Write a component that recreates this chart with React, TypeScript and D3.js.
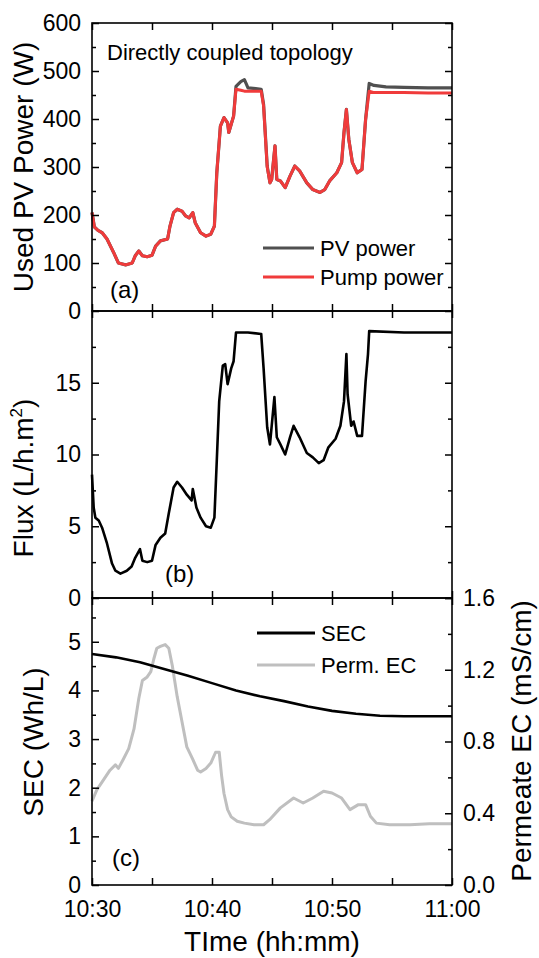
import { useRef, useEffect } from 'react';
import * as d3 from 'd3';

// time is minutes after 10:30
const powerTime = [0, 0.2, 0.5, 0.85, 1.25, 1.8, 2.2, 2.8, 3.35, 3.6, 3.9, 4.2, 4.6, 5.0, 5.3, 5.7, 6.3, 6.5, 6.8, 7.1, 7.5, 7.8, 8.1, 8.4, 8.6, 9.05, 9.5, 9.9, 10.2, 10.4, 10.7, 11.0, 11.3, 11.4, 11.6, 11.8, 12.0, 12.4, 12.7, 13.0, 14.1, 14.3, 14.6, 14.83, 14.97, 15.25, 15.4, 15.7, 16.1, 16.5, 16.9, 17.3, 17.9, 18.4, 19.0, 19.4, 19.8, 20.4, 20.8, 21.0, 21.2, 21.4, 21.7, 22.1, 22.5, 22.8, 23.1, 23.5, 24.5, 26, 28, 30];
const pvPower = [205, 175, 168, 163, 150, 122, 100, 96, 100, 115, 125, 115, 113, 116, 135, 146, 150, 177, 205, 212, 208, 198, 194, 205, 184, 163, 156, 160, 177, 288, 385, 403, 392, 372, 389, 406, 468, 478, 482, 465, 462, 430, 302, 267, 274, 344, 274, 271, 257, 281, 302, 292, 267, 253, 247, 253, 271, 288, 309, 372, 420, 358, 309, 288, 295, 399, 474, 470, 467, 466, 465, 465];
const pumpPower = [205, 175, 168, 163, 150, 122, 100, 96, 100, 115, 125, 115, 113, 116, 135, 146, 150, 177, 205, 212, 208, 198, 194, 205, 184, 163, 156, 160, 177, 288, 385, 403, 392, 372, 389, 406, 462, 460, 458, 458, 458, 427, 300, 267, 274, 344, 274, 271, 257, 281, 302, 292, 267, 253, 247, 253, 271, 288, 309, 372, 420, 358, 309, 288, 295, 399, 458, 455, 455, 455, 454, 454];

const fluxTime = [0, 0.14, 0.28, 0.56, 0.84, 1.25, 1.67, 1.95, 2.37, 2.9, 3.3, 3.6, 4.0, 4.2, 4.6, 5.0, 5.3, 5.7, 6.1, 6.4, 6.8, 7.1, 7.5, 7.9, 8.3, 8.4, 8.7, 9.05, 9.5, 9.9, 10.2, 10.4, 10.6, 10.9, 11.1, 11.3, 11.6, 11.8, 12.0, 13.0, 14.1, 14.3, 14.6, 14.83, 15.2, 15.4, 15.7, 16.1, 16.5, 16.8, 17.3, 17.9, 18.4, 18.9, 19.3, 19.7, 20.3, 20.7, 21.0, 21.2, 21.3, 21.6, 21.8, 22.1, 22.5, 22.8, 23.0, 23.1, 26, 30];
const flux = [8.6, 6.3, 5.6, 5.4, 4.9, 3.8, 2.4, 1.9, 1.7, 1.9, 2.2, 2.8, 3.4, 2.6, 2.5, 2.6, 3.7, 4.2, 4.5, 5.9, 7.7, 8.1, 7.7, 7.2, 6.8, 7.6, 6.3, 5.6, 5.0, 4.9, 5.6, 9.6, 13.7, 16.2, 16.3, 14.9, 16.0, 16.5, 18.5, 18.5, 18.4, 16.0, 11.9, 10.7, 14.0, 11.2, 10.7, 10.0, 11.2, 12.0, 11.2, 10.1, 9.8, 9.4, 9.6, 10.5, 11.1, 12.0, 13.7, 17.0, 14.2, 12.0, 12.3, 11.3, 11.3, 15.1, 17.0, 18.6, 18.5, 18.5];

const secTime = [0, 2, 4, 6, 8, 10, 12, 14, 16, 18, 20, 22, 24, 26, 28, 30];
const sec = [4.75, 4.68, 4.58, 4.44, 4.3, 4.15, 4.0, 3.88, 3.78, 3.67, 3.58, 3.52, 3.48, 3.47, 3.47, 3.47];

const ecTime = [0, 0.4, 1.0, 1.5, 1.95, 2.2, 2.6, 3.06, 3.5, 3.9, 4.2, 4.6, 4.9, 5.15, 5.4, 5.7, 6.1, 6.4, 6.7, 7.1, 7.5, 7.9, 8.4, 8.8, 9.05, 9.5, 9.9, 10.3, 10.6, 10.8, 11.0, 11.3, 11.6, 12.1, 12.7, 13.5, 14.3, 14.8, 15.7, 16.8, 17.6, 18.4, 19.3, 20.0, 20.8, 21.5, 22.2, 22.8, 23.2, 23.7, 24.8, 26.5, 28.1, 30];
const permEC = [0.467, 0.53, 0.59, 0.64, 0.67, 0.65, 0.7, 0.76, 0.87, 1.04, 1.14, 1.16, 1.19, 1.26, 1.32, 1.33, 1.34, 1.32, 1.22, 1.05, 0.91, 0.77, 0.7, 0.64, 0.63, 0.65, 0.68, 0.74, 0.74, 0.61, 0.51, 0.42, 0.38, 0.355, 0.345, 0.336, 0.336, 0.364, 0.43, 0.485, 0.457, 0.485, 0.523, 0.513, 0.485, 0.42, 0.448, 0.448, 0.383, 0.345, 0.336, 0.336, 0.342, 0.342];

const timeTicks = [0, 5, 10, 15, 20, 25, 30];
const timeLabelAt = [0, 10, 20, 30];
const timeLabels = ['10:30', '10:40', '10:50', '11:00'];

const powerTicks = [0, 100, 200, 300, 400, 500, 600];
const powerMinor = [50, 150, 250, 350, 450, 550];
const fluxTicks = [0, 5, 10, 15];
const fluxMinor = [2.5, 7.5, 12.5, 17.5];
const secTicks = [0, 1, 2, 3, 4, 5];
const secMinor = [0.5, 1.5, 2.5, 3.5, 4.5, 5.5];
const ecTicks = [0, 0.4, 0.8, 1.2, 1.6];
const ecMinor = [0.2, 0.6, 1.0, 1.4];

const FONT = 'Arial, "Liberation Sans", sans-serif';

export default function App() {
  const svgRef = useRef<SVGSVGElement>(null);

  useEffect(() => {
    if (!svgRef.current) return;
    const svg = d3.select(svgRef.current);
    svg.selectAll('*').remove();

    const x0 = 92;
    const x1 = 452;
    const x = d3.scaleLinear().domain([0, 30]).range([x0, x1]);

    const yPow = d3.scaleLinear().domain([0, 600]).range([311, 23]);
    const yFlux = d3.scaleLinear().domain([0, 20]).range([598, 311]);
    const ySec = d3.scaleLinear().domain([0, 5.9]).range([885, 598]);
    const yEc = d3.scaleLinear().domain([0, 1.6]).range([885, 598]);

    const styleAxis = (g: any) => {
      g.select('.domain').remove();
      g.selectAll('line').attr('stroke', '#000').attr('stroke-width', 1.5);
      g.selectAll('text').attr('font-family', FONT).attr('font-size', 23).attr('fill', '#000');
    };

    const frame = (top: number, bottom: number, y: any, majors: number[], minors: number[], labelled: boolean) => {
      // time ticks top and bottom
      svg.append('g').attr('transform', `translate(0,${bottom})`)
        .call(d3.axisBottom(x).tickValues(timeTicks).tickSize(-7).tickFormat(() => ''))
        .call(styleAxis);
      svg.append('g').attr('transform', `translate(0,${top})`)
        .call(d3.axisTop(x).tickValues(timeTicks).tickSize(-7).tickFormat(() => ''))
        .call(styleAxis);
      // left
      svg.append('g').attr('transform', `translate(${x0},0)`)
        .call(d3.axisLeft(y).tickValues(majors).tickSize(-7).tickPadding(11)
          .tickFormat((d: any) => (labelled ? String(d) : '')))
        .call(styleAxis);
      svg.append('g').attr('transform', `translate(${x0},0)`)
        .call(d3.axisLeft(y).tickValues(minors).tickSize(-4).tickFormat(() => ''))
        .call(styleAxis);
      svg.append('rect')
        .attr('x', x0).attr('y', top).attr('width', x1 - x0).attr('height', bottom - top)
        .attr('fill', 'none').attr('stroke', '#000').attr('stroke-width', 1.6);
    };

    const rightTicks = (y: any, majors: number[], minors: number[], fmt: ((d: any) => string) | null) => {
      svg.append('g').attr('transform', `translate(${x1},0)`)
        .call(d3.axisRight(y).tickValues(majors).tickSize(-7).tickPadding(11)
          .tickFormat((d: any) => (fmt ? fmt(d) : '')))
        .call(styleAxis);
      svg.append('g').attr('transform', `translate(${x1},0)`)
        .call(d3.axisRight(y).tickValues(minors).tickSize(-4).tickFormat(() => ''))
        .call(styleAxis);
    };

    const drawLine = (ts: number[], vs: number[], y: any, color: string, w: number) => {
      const pts = ts.map((t, i) => [t, vs[i]] as [number, number]);
      svg.append('path')
        .datum(pts)
        .attr('d', d3.line<[number, number]>().x((d) => x(d[0])).y((d) => y(d[1])))
        .attr('fill', 'none')
        .attr('stroke', color)
        .attr('stroke-width', w)
        .attr('stroke-linejoin', 'round');
    };

    const text = (s: string, tx: number, ty: number, size: number, anchor = 'start', rot = 0) => {
      svg.append('text')
        .attr('transform', `translate(${tx},${ty}) rotate(${rot})`)
        .attr('text-anchor', anchor)
        .attr('font-family', FONT)
        .attr('font-size', size)
        .attr('fill', '#000')
        .text(s);
    };

    // (a) power
    drawLine(powerTime, pvPower, yPow, '#505050', 3.2);
    drawLine(powerTime, pumpPower, yPow, '#f03b3b', 3);
    frame(23, 311, yPow, powerTicks, powerMinor, true);
    rightTicks(yPow, powerTicks, powerMinor, null);
    text('Directly coupled topology', 107, 60, 22);
    text('(a)', 110, 298, 24);
    svg.append('line').attr('x1', 263).attr('x2', 314).attr('y1', 248).attr('y2', 248)
      .attr('stroke', '#505050').attr('stroke-width', 3.2);
    svg.append('line').attr('x1', 263).attr('x2', 314).attr('y1', 277).attr('y2', 277)
      .attr('stroke', '#f03b3b').attr('stroke-width', 3);
    text('PV power', 320, 256, 22);
    text('Pump power', 320, 285, 22);
    text('Used PV Power (W)', 33, 167, 28, 'middle', -90);

    // (b) flux
    drawLine(fluxTime, flux, yFlux, '#000', 2.6);
    frame(311, 598, yFlux, fluxTicks, fluxMinor, true);
    rightTicks(yFlux, fluxTicks, fluxMinor, null);
    text('(b)', 165, 582, 24);
    const fluxTitle = svg.append('text')
      .attr('transform', 'translate(33,478) rotate(-90)')
      .attr('text-anchor', 'middle')
      .attr('font-family', FONT)
      .attr('font-size', 28);
    fluxTitle.append('tspan').text('Flux (L/h.m');
    fluxTitle.append('tspan').attr('font-size', 17).attr('dy', -11).text('2');
    fluxTitle.append('tspan').attr('dy', 11).text(')');

    // (c) SEC and permeate EC
    drawLine(ecTime, permEC, yEc, '#bfbfbf', 3);
    drawLine(secTime, sec, ySec, '#000', 2.6);
    frame(598, 885, ySec, secTicks, secMinor, true);
    rightTicks(yEc, ecTicks, ecMinor, (d) => d3.format('.1f')(d));
    text('(c)', 112, 866, 24);
    svg.append('line').attr('x1', 257).attr('x2', 315).attr('y1', 633).attr('y2', 633)
      .attr('stroke', '#000').attr('stroke-width', 2.8);
    svg.append('line').attr('x1', 257).attr('x2', 315).attr('y1', 665).attr('y2', 665)
      .attr('stroke', '#bfbfbf').attr('stroke-width', 3);
    text('SEC', 321, 641, 22);
    text('Perm. EC', 321, 673, 22);
    text('SEC (Wh/L)', 43, 742, 28, 'middle', -90);
    text('Permeate EC (mS/cm)', 531, 741, 28, 'middle', -90);

    // time labels
    svg.append('g').attr('transform', 'translate(0,885)')
      .call(d3.axisBottom(x).tickValues(timeLabelAt).tickSize(0).tickPadding(16)
        .tickFormat((_d: any, i: number) => timeLabels[i]))
      .call(styleAxis);
    text('TIme (hh:mm)', 272, 951, 28, 'middle');
  }, []);

  return (
    <svg
      ref={svgRef}
      width={539}
      height={958}
      viewBox="0 0 539 958"
      style={{ position: 'absolute', left: 0, top: 0, background: '#fff' }}
    />
  );
}
